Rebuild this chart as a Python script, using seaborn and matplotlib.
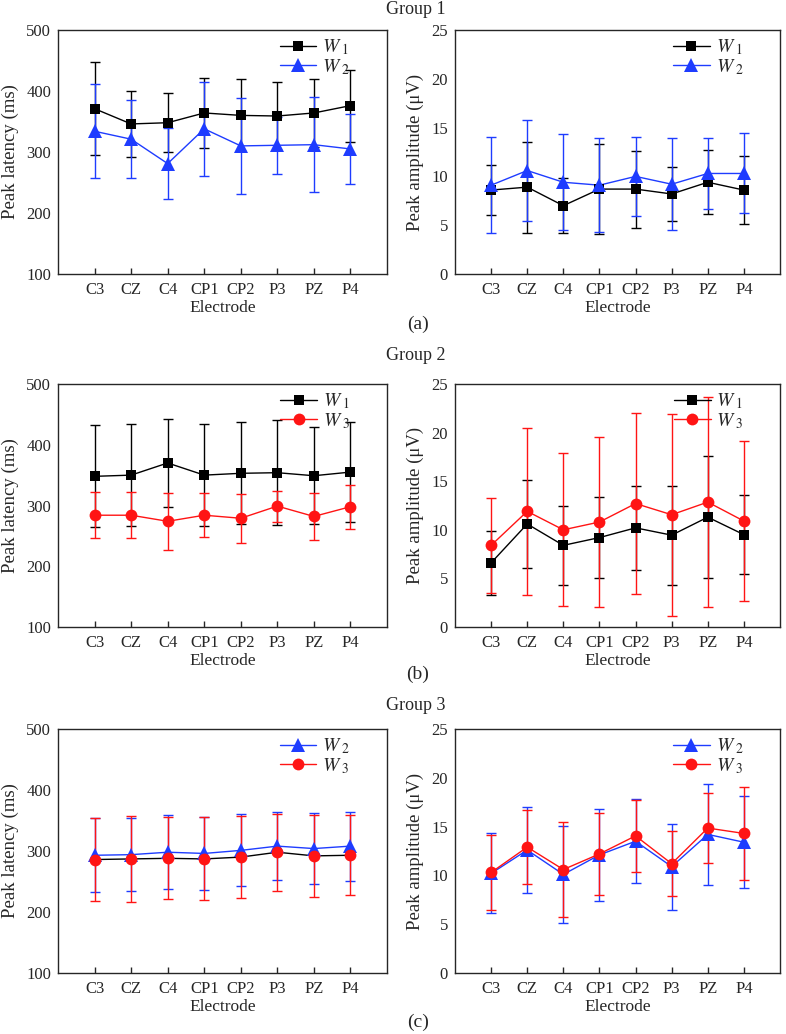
import numpy as np
import pandas as pd
import matplotlib
matplotlib.use("Agg")
import matplotlib.pyplot as plt
from matplotlib.lines import Line2D
import seaborn as sns

# ---------------- data ----------------
electrodes = ["C3", "CZ", "C4", "CP1", "CP2", "P3", "PZ", "P4"]

# Group 1 (W1 vs W2)
g1_lat_w1 = [371, 346, 348, 364, 360, 359, 364, 376]
g1_lat_w1_sd = [76, 54, 48, 57, 59, 55, 55, 59]
g1_lat_w2 = [334, 321, 281, 338, 310, 311, 312, 305]
g1_lat_w2_sd = [77, 64, 58, 77, 79, 47, 78, 57]
g1_amp_w1 = [8.6, 8.9, 7.0, 8.7, 8.7, 8.2, 9.4, 8.6]
g1_amp_w1_sd = [2.55, 4.65, 2.85, 4.6, 3.95, 2.8, 3.3, 3.45]
g1_amp_w2 = [9.1, 10.6, 9.4, 9.1, 10.0, 9.2, 10.3, 10.3]
g1_amp_w2_sd = [4.9, 5.2, 4.9, 4.8, 4.05, 4.7, 3.65, 4.1]

# Group 2 (W1 vs W3)
g2_lat_w1 = [348, 350, 370, 350, 353, 354, 349, 355]
g2_lat_w1_sd = [84, 84, 72, 84, 84, 86, 80, 82]
g2_lat_w3 = [284, 284, 274, 284, 279, 299, 282, 298]
g2_lat_w3_sd = [38, 38, 47, 36, 40, 25.5, 38, 36.5]
g2_amp_w1 = [6.6, 10.6, 8.4, 9.2, 10.2, 9.45, 11.3, 9.5]
g2_amp_w1_sd = [3.3, 4.55, 4.05, 4.2, 4.3, 5.1, 6.3, 4.05]
g2_amp_w3 = [8.4, 11.9, 10.0, 10.8, 12.7, 11.55, 12.85, 10.9]
g2_amp_w3_sd = [4.9, 8.6, 7.85, 8.7, 9.3, 10.4, 10.8, 8.2]

# Group 3 (W2 vs W3)
g3_lat_w2 = [293, 294, 298, 296, 301, 308, 304, 308]
g3_lat_w2_sd = [61, 60, 61, 60.5, 59, 56, 58.5, 56.5]
g3_lat_w3 = [286, 287, 288, 287, 290, 298, 292, 293]
g3_lat_w3_sd = [68, 70.5, 67.5, 68, 67.5, 63, 67.5, 65.5]
g3_amp_w2 = [10.2, 12.6, 10.1, 12.1, 13.5, 10.9, 14.2, 13.4]
g3_amp_w2_sd = [4.1, 4.45, 5.0, 4.7, 4.3, 4.4, 5.15, 4.7]
g3_amp_w3 = [10.3, 12.9, 10.6, 12.2, 14.05, 11.2, 14.85, 14.3]
g3_amp_w3_sd = [3.85, 3.77, 4.85, 4.2, 3.7, 3.35, 3.63, 4.74]

group_titles = ["Group 1", "Group 2", "Group 3"]
panel_tags = ["(a)", "(b)", "(c)"]

# ---------------- style ----------------
sns.set_style("ticks")
plt.rcParams["font.family"] = ["Liberation Serif", "DejaVu Serif"]
plt.rcParams["mathtext.fontset"] = "stix"

BLACK = "#000000"
BLUE = "#1e3cff"
RED = "#ff1414"

series_style = {
    "W1": dict(color=BLACK, marker="s", ms=7.5, label=r"$W_{\ 1}$"),
    "W2": dict(color=BLUE, marker="^", ms=9.5, label=r"$W_{\ 2}$"),
    "W3": dict(color=RED, marker="o", ms=8.5, label=r"$W_{\ 3}$"),
}

W, H = 786, 1034
fig = plt.figure(figsize=(W / 100, H / 100), dpi=100)

TICK_FS = 12
XLABEL_FS = 12.5
YLABEL_FS = 13.5


def px_axes(x0, y0, x1, y1):
    return fig.add_axes([x0 / W, 1 - y1 / H, (x1 - x0) / W, (y1 - y0) / H])


def draw_panel(ax, series, ylim, yticks, ylabel, line_override=None):
    line_override = line_override or {}
    handles = []
    for key, vals, sd in series:
        st = series_style[key]
        lc = line_override.get(key, st["color"])
        df = pd.DataFrame({"Electrode": electrodes, "val": vals})
        ax.errorbar(electrodes, vals, yerr=sd, fmt="none", ecolor=st["color"],
                    elinewidth=1.0, capsize=3.5, capthick=1.0, zorder=2)
        sns.lineplot(data=df, x="Electrode", y="val", ax=ax, sort=False,
                     color=lc, linewidth=1.0, errorbar=None, zorder=3,
                     marker=None, legend=False)
        ax.plot(electrodes, vals, linestyle="none", marker=st["marker"],
                color=st["color"], markersize=st["ms"], zorder=4,
                markeredgewidth=0)
        handles.append(Line2D([0], [0], color=st["color"], lw=1.0,
                              marker=st["marker"], markersize=st["ms"],
                              markeredgewidth=0, label=st["label"]))
    ax.set_xlim(-1, 8)
    ax.set_ylim(*ylim)
    ax.set_yticks(yticks)
    ax.set_xticks(range(len(electrodes)))
    ax.set_xticklabels(electrodes)
    ax.tick_params(axis="x", direction="in", length=4, width=1,
                   labelsize=TICK_FS, pad=6)
    ax.tick_params(axis="y", length=0, labelsize=TICK_FS, pad=5)
    ax.set_xlabel("Electrode", fontsize=XLABEL_FS, labelpad=1)
    ax.set_ylabel(ylabel, fontsize=YLABEL_FS, labelpad=5)
    for s in ax.spines.values():
        s.set_linewidth(1.0)
    ax.legend(handles=handles, loc="upper right", frameon=False,
              bbox_to_anchor=(0.93, 1.025), fontsize=14, handlelength=1.9,
              handletextpad=0.3, labelspacing=0.0, borderaxespad=0.3)


rows = [(30, 274), (384, 627), (729, 973)]
left_x = (58, 387)
right_x = (455, 780)

lat_sets = [
    [("W1", g1_lat_w1, g1_lat_w1_sd), ("W2", g1_lat_w2, g1_lat_w2_sd)],
    [("W1", g2_lat_w1, g2_lat_w1_sd), ("W3", g2_lat_w3, g2_lat_w3_sd)],
    [("W2", g3_lat_w2, g3_lat_w2_sd), ("W3", g3_lat_w3, g3_lat_w3_sd)],
]
amp_sets = [
    [("W1", g1_amp_w1, g1_amp_w1_sd), ("W2", g1_amp_w2, g1_amp_w2_sd)],
    [("W1", g2_amp_w1, g2_amp_w1_sd), ("W3", g2_amp_w3, g2_amp_w3_sd)],
    [("W2", g3_amp_w2, g3_amp_w2_sd), ("W3", g3_amp_w3, g3_amp_w3_sd)],
]

for i, (y0, y1) in enumerate(rows):
    axl = px_axes(left_x[0], y0, left_x[1], y1)
    override = {"W3": BLACK} if i == 2 else None
    draw_panel(axl, lat_sets[i], (100, 500), [100, 200, 300, 400, 500],
               "Peak latency (ms)", override)
    axr = px_axes(right_x[0], y0, right_x[1], y1)
    draw_panel(axr, amp_sets[i], (0, 25), [0, 5, 10, 15, 20, 25],
               "Peak amplitude (\u03bcV)")

title_y = [9, 356, 706]
tag_y = [324, 674, 1022]
for i in range(3):
    fig.text(416 / W, 1 - title_y[i] / H, group_titles[i], ha="center",
             va="center", fontsize=13)
    fig.text(418 / W, 1 - tag_y[i] / H, panel_tags[i], ha="center",
             va="center", fontsize=14)

fig.savefig("out.png", dpi=100)
